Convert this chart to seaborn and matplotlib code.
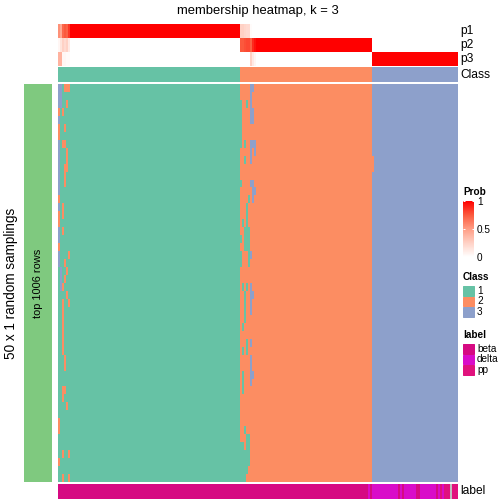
"""
Membership heatmap (k = 3) - refeito com seaborn.
"""
import numpy as np
import seaborn as sns
import matplotlib.pyplot as plt
from matplotlib.colors import ListedColormap, LinearSegmentedColormap
from matplotlib.patches import Rectangle
from matplotlib.cm import ScalarMappable
from matplotlib.colors import Normalize

plt.rcParams['font.family'] = ['Liberation Sans', 'DejaVu Sans']

# ---- dados ----
n_rows = 50
n_por_classe = [91, 66, 43]          # colunas em cada classe
classes = [1, 2, 3]

# probabilidades das primeiras colunas de cada bloco (resto = 1 na classe)
p1_ini_c1 = [0.55, 0.45, 0.70, 0.75, 0.72, 0.85]
p2_ini_c1 = [0.05, 0.15, 0.25, 0.20, 0.25, 0.12]
p3_ini_c1 = [0.40, 0.40, 0.05, 0.05, 0.03, 0.03]
p1_ini_c2 = [0.25, 0.25, 0.22, 0.20, 0.20, 0.02, 0.00, 0.00]
p2_ini_c2 = [0.75, 0.75, 0.78, 0.80, 0.80, 0.73, 0.88, 0.95]
p3_ini_c2 = [0.00, 0.00, 0.00, 0.00, 0.00, 0.25, 0.12, 0.05]

# desvios na matriz de amostragens: (coluna, linha inicial, linha final, classe)
desvios = [
    (0, 0, 2, 3), (0, 3, 3, 2), (0, 4, 4, 3), (0, 5, 6, 2), (0, 7, 13, 3),
    (0, 14, 14, 2), (0, 15, 15, 3), (0, 16, 17, 2), (0, 18, 19, 3),
    (0, 20, 20, 2), (0, 21, 22, 3), (0, 42, 43, 2), (0, 47, 47, 2),
    (1, 0, 2, 3), (1, 23, 25, 3),
    (2, 3, 3, 2), (2, 7, 7, 2), (2, 15, 16, 2), (2, 18, 18, 2), (2, 25, 25, 2),
    (2, 27, 33, 2), (2, 38, 39, 2), (2, 46, 46, 2), (2, 49, 49, 2),
    (3, 0, 0, 2), (3, 5, 5, 2), (3, 7, 7, 2), (3, 10, 12, 2), (3, 22, 22, 2),
    (3, 24, 24, 2), (3, 34, 35, 2), (3, 38, 38, 2),
    (4, 0, 0, 2), (4, 2, 2, 2), (4, 8, 10, 2), (4, 23, 23, 2), (4, 26, 26, 2),
    (4, 40, 40, 2),
    (5, 0, 0, 2), (5, 21, 21, 2), (5, 27, 27, 2), (5, 46, 46, 2), (5, 49, 49, 2),
    (91, 2, 7, 1), (91, 12, 12, 1), (91, 19, 19, 1), (91, 21, 22, 1), (91, 45, 49, 1),
    (92, 17, 17, 1), (92, 25, 25, 1), (92, 30, 30, 1), (92, 33, 33, 1),
    (92, 36, 38, 1), (92, 45, 49, 1),
    (93, 7, 7, 1), (93, 9, 9, 1), (93, 18, 20, 1), (93, 26, 29, 1), (93, 43, 43, 1),
    (93, 46, 49, 1),
    (94, 2, 2, 1), (94, 15, 20, 1), (94, 25, 25, 1), (94, 32, 33, 1), (94, 44, 48, 1),
    (95, 14, 14, 1), (95, 18, 22, 1), (95, 44, 47, 1),
    (96, 0, 4, 3), (96, 7, 9, 3), (96, 12, 12, 3), (96, 21, 21, 3), (96, 25, 28, 3),
    (96, 32, 32, 3), (96, 34, 37, 3),
    (97, 0, 0, 3), (97, 3, 4, 3), (97, 7, 7, 3), (97, 12, 14, 3), (97, 26, 26, 3),
    (97, 36, 36, 3),
    (98, 7, 8, 3), (98, 13, 13, 3),
    (157, 9, 10, 2),
]

# anotacao "label" por trechos de colunas
label_trechos = [
    ("beta", 0, 154), ("delta", 155, 155), ("beta", 156, 156), ("delta", 157, 169),
    ("beta", 170, 170), ("delta", 171, 171), ("beta", 172, 172), ("delta", 173, 178),
    ("beta", 179, 180), ("delta", 181, 188), ("beta", 189, 189), ("delta", 190, 190),
    ("pp", 191, 191), ("delta", 192, 192), ("pp", 193, 195), ("NA", 196, 196),
    ("pp", 197, 199),
]
label_nomes = ["beta", "delta", "pp", "NA"]

cores_classe = ["#66C2A5", "#FC8D62", "#8DA0CB"]
cores_label = ["#D60A82", "#D90CC9", "#E0127D", "#BEBEBE"]
cor_esquerda = "#7FC97F"
cmap_prob = LinearSegmentedColormap.from_list(
    "prob", ["#FFFFFF", "#FFD1C5", "#FF9E86", "#FB5A3E", "#FF0000"])

# ---- montagem das matrizes ----
n_cols = sum(n_por_classe)
classe_col = np.repeat(classes, n_por_classe)
mat = np.tile(classe_col, (n_rows, 1))
for c, r0, r1, k in desvios:
    mat[r0:r1 + 1, c] = k

p = np.zeros((3, n_cols))
for i, k in enumerate(classes):
    p[i, classe_col == k] = 1.0
c2 = n_por_classe[0]
for i, (a, b) in enumerate([(p1_ini_c1, p1_ini_c2), (p2_ini_c1, p2_ini_c2),
                            (p3_ini_c1, p3_ini_c2)]):
    p[i, :len(a)] = a
    p[i, c2:c2 + len(b)] = b

lab = np.zeros(n_cols, dtype=int)
for nome, a, b in label_trechos:
    lab[a:b + 1] = label_nomes.index(nome)

# ---- figura ----
W = H = 504
fig = plt.figure(figsize=(7, 7), dpi=72)


def caixa(x0, y0, x1, y1):
    return fig.add_axes([x0 / W, 1 - y1 / H, (x1 - x0) / W, (y1 - y0) / H])


def texto(x, y, s, **kw):
    fig.text(x / W, 1 - y / H, s, **kw)


X0, X1 = 57.5, 457.5

ax = caixa(X0, 24, X1, 66)
sns.heatmap(p, ax=ax, cmap=cmap_prob, vmin=0, vmax=1, cbar=False,
            xticklabels=False, yticklabels=False)

ax = caixa(X0, 67, X1, 82)
sns.heatmap(classe_col[None, :], ax=ax, cmap=ListedColormap(cores_classe),
            vmin=0.5, vmax=3.5, cbar=False, xticklabels=False, yticklabels=False)

ax = caixa(X0, 84, X1, 482)
sns.heatmap(mat, ax=ax, cmap=ListedColormap(cores_classe), vmin=0.5, vmax=3.5,
            cbar=False, xticklabels=False, yticklabels=False)

ax = caixa(X0, 484, X1, 499)
sns.heatmap(lab[None, :], ax=ax, cmap=ListedColormap(cores_label),
            vmin=-0.5, vmax=3.5, cbar=False, xticklabels=False, yticklabels=False)

ax = caixa(24, 84, 52, 482)
sns.heatmap(np.zeros((n_rows, 1)), ax=ax, cmap=ListedColormap([cor_esquerda]),
            cbar=False, xticklabels=False, yticklabels=False)

# textos
texto((X0 + X1) / 2, 11, "membership heatmap, k = 3", ha="center", va="center",
      fontsize=13)
for nome, y in [("p1", 31), ("p2", 45), ("p3", 59), ("Class", 74.5), ("label", 491.5)]:
    texto(460, y, nome, ha="left", va="center", fontsize=12)
texto(11, 283, "50 x 1 random samplings", ha="center", va="center",
      rotation=90, fontsize=13.5)
texto(38, 283, "top 1006 rows", ha="center", va="center", rotation=90, fontsize=11)

# legenda Prob
texto(463, 192, "Prob", ha="left", va="center", fontsize=10, fontweight="bold")
cax = caixa(463, 201, 474, 257)
cb = fig.colorbar(ScalarMappable(Normalize(0, 1), cmap_prob), cax=cax,
                  ticks=[0, 0.5, 1])
cb.outline.set_visible(False)
cb.ax.set_yticklabels(["0", "0.5", "1"])
cax.tick_params(axis="y", direction="in", colors="white", length=2, width=1,
                labelcolor="black", labelsize=10, pad=3, left=True, right=True)

# legenda Class
texto(463, 277, "Class", ha="left", va="center", fontsize=10, fontweight="bold")
for i, (cor, nome) in enumerate(zip(cores_classe, ["1", "2", "3"])):
    y0 = 286 + i * 10.5
    fig.add_artist(Rectangle((463 / W, 1 - (y0 + 9.5) / H), 11 / W, 9.5 / H,
                             transform=fig.transFigure, color=cor))
    texto(477, y0 + 4.75, nome, ha="left", va="center", fontsize=10)

# legenda label
texto(463, 335, "label", ha="left", va="center", fontsize=10, fontweight="bold")
for i, nome in enumerate(label_nomes[:3]):
    y0 = 344 + i * 10.5
    fig.add_artist(Rectangle((463 / W, 1 - (y0 + 9.5) / H), 11 / W, 9.5 / H,
                             transform=fig.transFigure, color=cores_label[i]))
    texto(477, y0 + 4.75, nome, ha="left", va="center", fontsize=10)

fig.savefig("out.png", dpi=72)
